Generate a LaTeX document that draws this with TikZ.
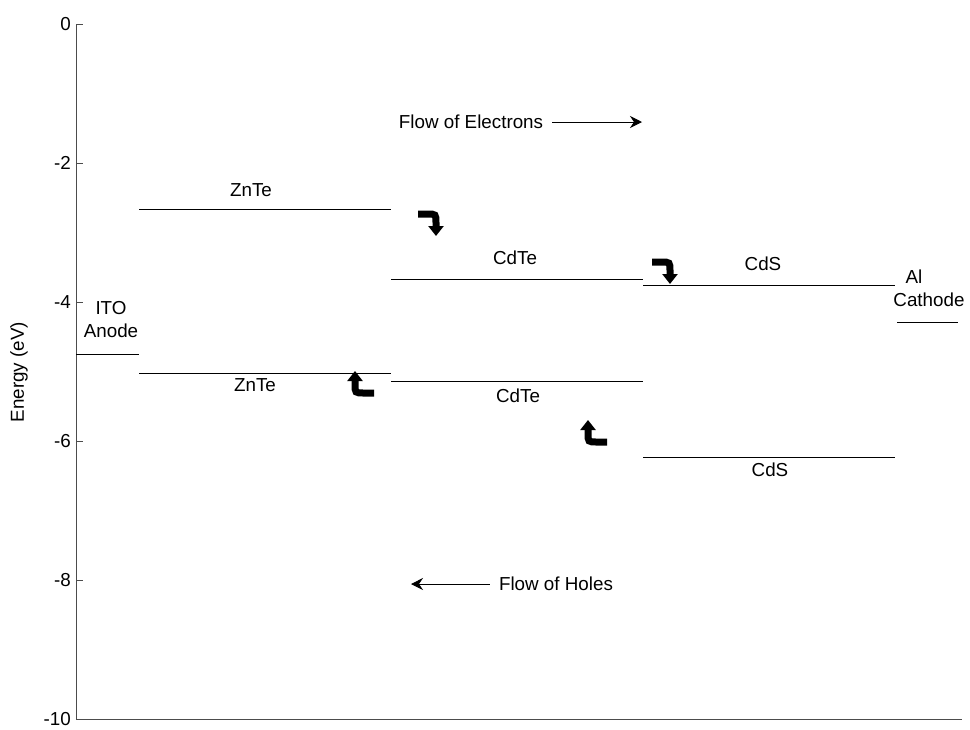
\documentclass[tikz,border=0pt]{standalone}
\usepackage{fontspec}
\setmainfont{Liberation Sans}
\usetikzlibrary{arrows.meta}
\begin{document}
\begin{tikzpicture}[x=1pt,y=-1pt,
  lvl/.style={draw=black,line width=0.9pt},
  axisline/.style={draw=black!70,line width=0.9pt},
  txt/.style={font=\fontsize{18.8}{21}\selectfont,inner sep=0pt},
  ticklab/.style={font=\fontsize{18.8}{21}\selectfont,inner sep=0pt,anchor=east},
  fatarrow/.style={line width=7pt,-{Triangle[width=15pt,length=10pt]}},
  flowarrow/.style={line width=0.9pt,-{Stealth[length=12pt,width=12pt,inset=4pt]}}]
\useasboundingbox (0,0) rectangle (970,729);
% axes
\coordinate (atop) at (76,24);
\coordinate (aorig) at (76,719);
\coordinate (aend) at (962,719);
\draw[axisline] (atop) -- (aorig) -- (aend);
\foreach \v/\yy in {0/24,-2/163,-4/302,-6/441,-8/580}{
  \coordinate (t\yy) at (76,\yy);
  \draw[axisline] (t\yy) -- ++(7,0);
  \node[ticklab] (l\yy) at (71,\yy) {\v};
}
\node[ticklab] (l719) at (71,719) {-10};
\node[txt,rotate=90] (ylab) at (19,372) {Energy (eV)};
% levels
\coordinate (ito1) at (76,354);   \coordinate (ito2) at (139,354);
\coordinate (zt1) at (139,209);   \coordinate (zt2) at (391,209);
\coordinate (zb1) at (139,373);   \coordinate (zb2) at (391,373);
\coordinate (ct1) at (391,279);   \coordinate (ct2) at (643,279);
\coordinate (cb1) at (391,381);   \coordinate (cb2) at (643,381);
\coordinate (st1) at (643,285);   \coordinate (st2) at (895,285);
\coordinate (sb1) at (643,457);   \coordinate (sb2) at (895,457);
\coordinate (al1) at (897,322);   \coordinate (al2) at (958,322);
\draw[lvl] (ito1) -- (ito2);
\draw[lvl] (zt1) -- (zt2);
\draw[lvl] (zb1) -- (zb2);
\draw[lvl] (ct1) -- (ct2);
\draw[lvl] (cb1) -- (cb2);
\draw[lvl] (st1) -- (st2);
\draw[lvl] (sb1) -- (sb2);
\draw[lvl] (al1) -- (al2);
% labels
\node[txt] (znt) at (251,190) {ZnTe};
\node[txt] (znb) at (255,385) {ZnTe};
\node[txt] (cdt) at (515,258) {CdTe};
\node[txt] (cdb) at (518,396) {CdTe};
\node[txt] (cst) at (763,264) {CdS};
\node[txt] (csb) at (770,470) {CdS};
\node[txt] (ito) at (111,308) {ITO};
\node[txt] (anode) at (111,331) {Anode};
\node[txt] (al) at (914,277) {Al};
\node[txt] (cath) at (929,300) {Cathode};
% flow arrows
\node[txt] (fe) at (471,122) {Flow of Electrons};
\coordinate (fee) at (642,122);
\draw[flowarrow] (fe.east) ++(9,0) coordinate (fes) -- (fee);
\node[txt] (fh) at (556,584) {Flow of Holes};
\coordinate (fhe) at (411,584);
\draw[flowarrow] (fh.west) ++(-9,0) coordinate (fhs) -- (fhe);
% curved fat arrows (electrons)
\coordinate (e1s) at (418,214); \coordinate (e1t) at (436,236);
\draw[fatarrow] (e1s) -- (427,214) .. controls (436,214) .. (436,223) -- (e1t);
\coordinate (e2s) at (652,262); \coordinate (e2t) at (670,284);
\draw[fatarrow] (e2s) -- (661,262) .. controls (670,262) .. (670,271) -- (e2t);
% curved fat arrows (holes)
\coordinate (h1s) at (374,393); \coordinate (h1t) at (355,371);
\draw[fatarrow] (h1s) -- (364,393) .. controls (355,393) .. (355,384) -- (h1t);
\coordinate (h2s) at (607,442); \coordinate (h2t) at (588,420);
\draw[fatarrow] (h2s) -- (597,442) .. controls (588,442) .. (588,433) -- (h2t);
\end{tikzpicture}
\end{document}
